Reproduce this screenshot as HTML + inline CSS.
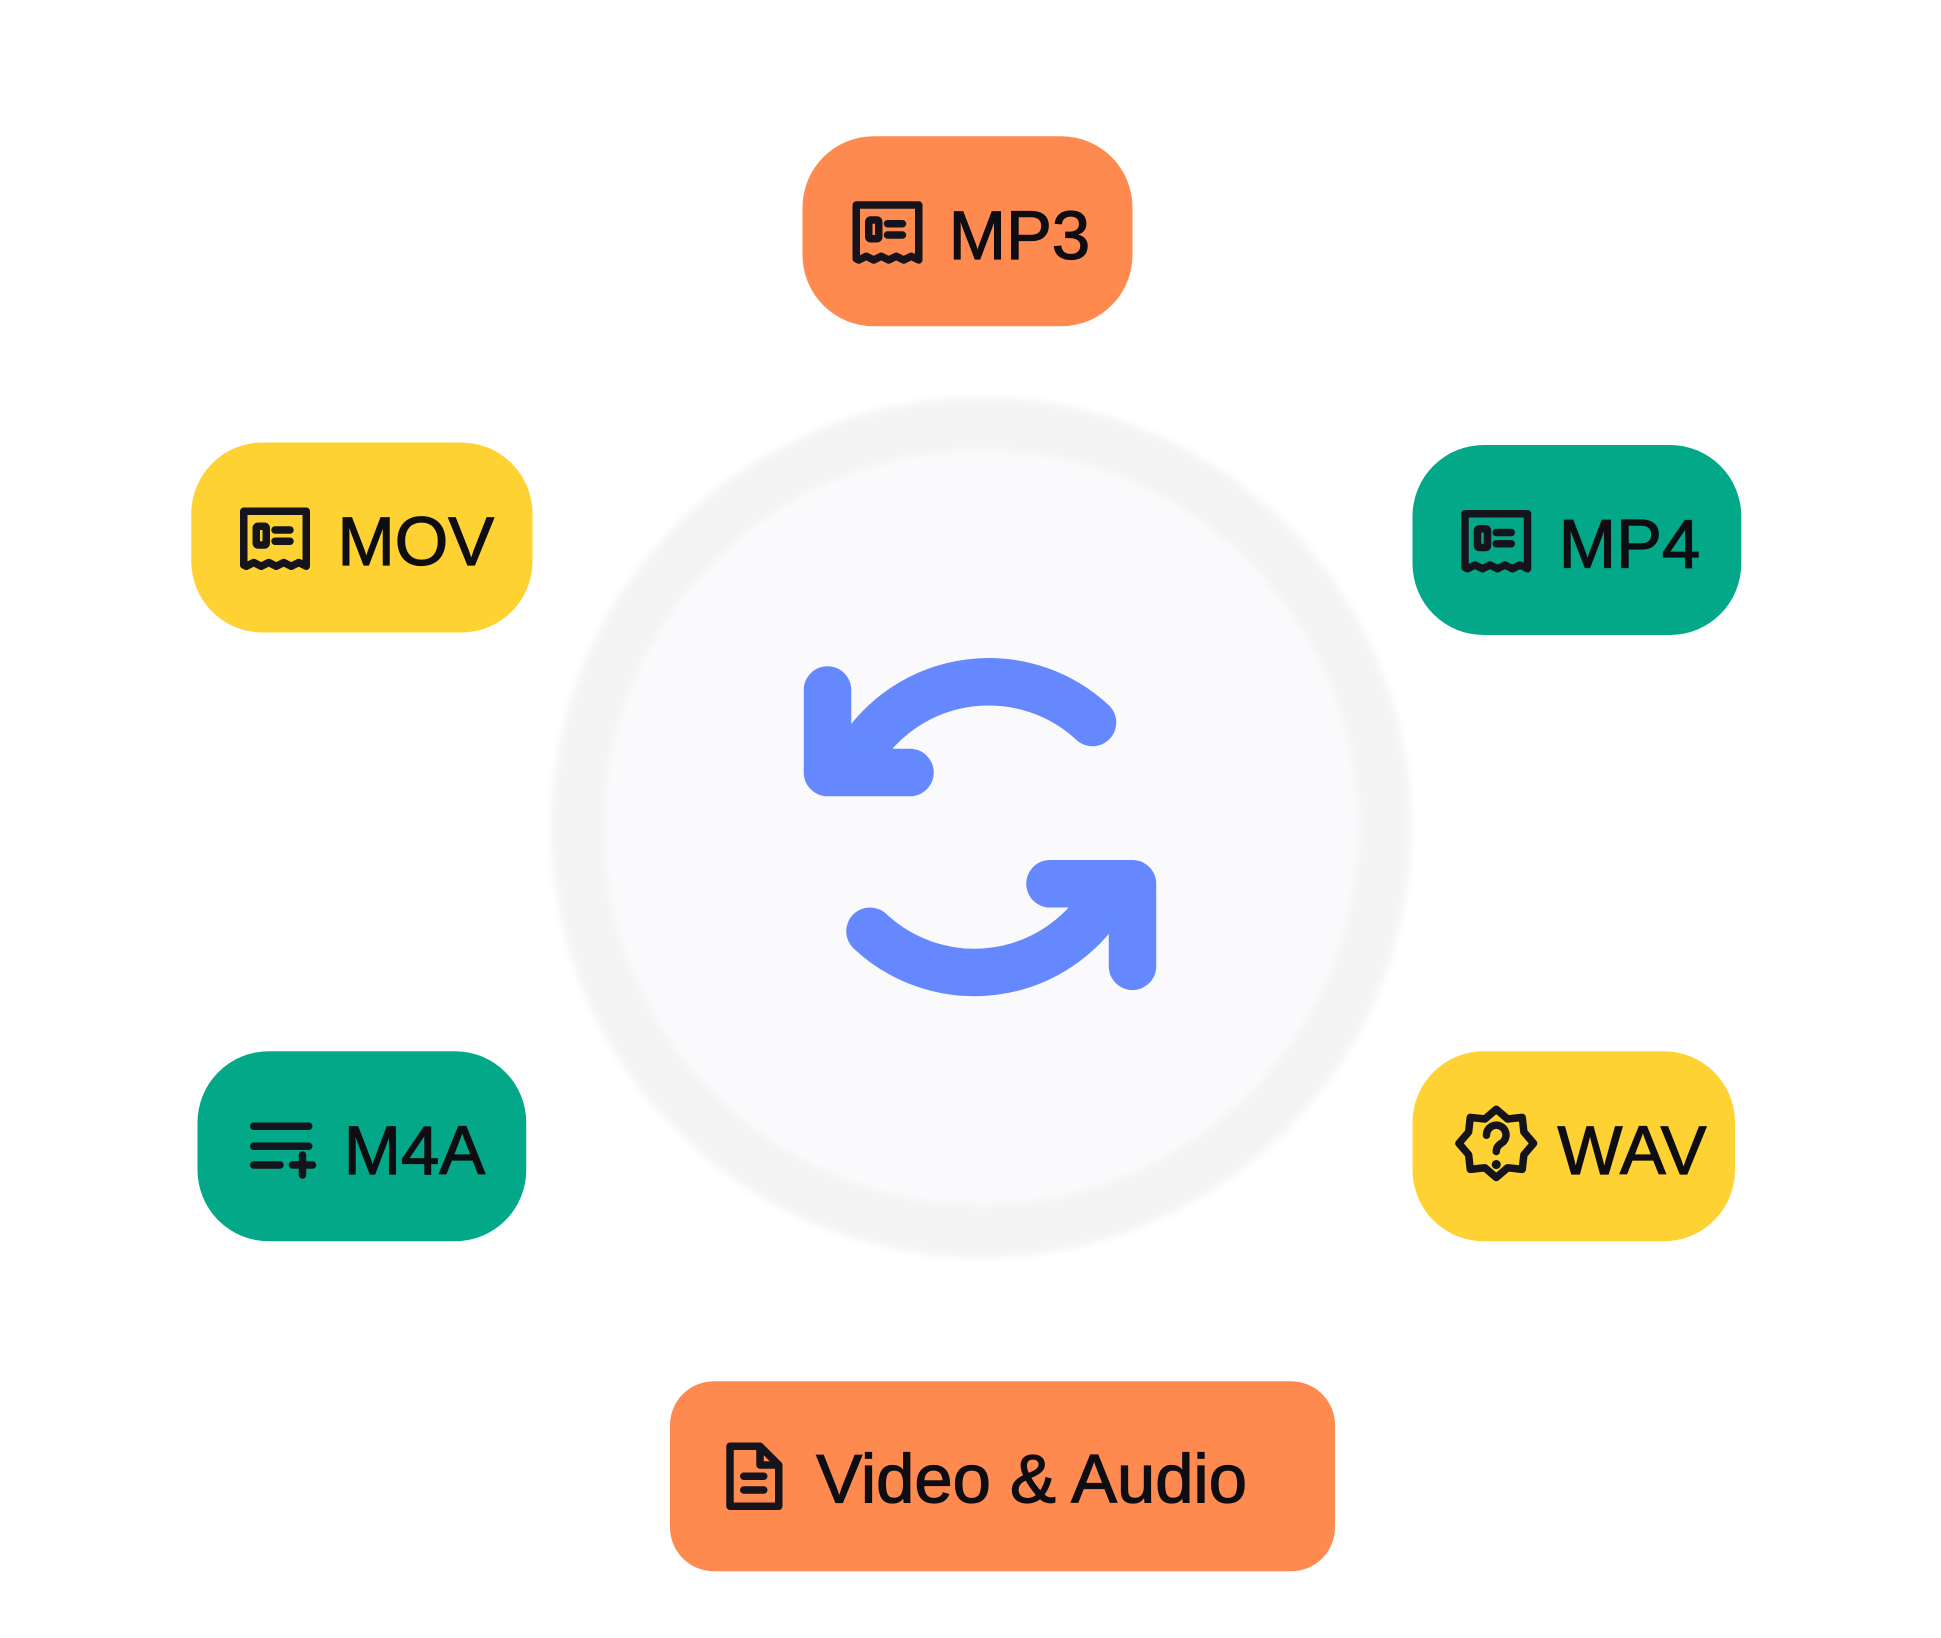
<!DOCTYPE html>
<html><head><meta charset="utf-8"><style>
html,body{margin:0;padding:0;background:#fff;}
svg{display:block;}
text{font-family:"Liberation Sans",Arial,sans-serif;font-size:55px;fill:#0d0d12;stroke:#0d0d12;stroke-width:1px;}
</style></head><body>
<svg width="1941" height="1638" viewBox="0 0 1552.8 1310.4" xmlns="http://www.w3.org/2000/svg">
<defs>
<filter id="b" x="-20%" y="-20%" width="140%" height="140%"><feGaussianBlur stdDeviation="3"/></filter>
<g id="rc" fill="none" stroke="#15141c" stroke-width="6" stroke-linejoin="round" stroke-linecap="round">
<path d="M2,2 H52 V46 L46,43 L40,46 L34,43 L28,46 L22,43 L16,46 L10,43 L4,46 L2,45 Z"/>
<rect x="12" y="14" width="8" height="15" rx="1.5"/>
<path d="M27,17 H39 M27,26 H39"/>
</g>
</defs>
<rect width="1552.8" height="1310.4" fill="#fff"/>
<circle cx="785" cy="662" r="344" fill="#f4f4f5" filter="url(#b)"/>
<circle cx="785" cy="662" r="302" fill="#fafafc" filter="url(#b)"/>
<g fill="none" stroke="#6588ff" stroke-width="38" stroke-linecap="round" stroke-linejoin="round">
<path d="M874,578 A122,122 0 0 0 688,602"/>
<path d="M662,552 L662,618 L728,618"/>
<path d="M696,745 A122,122 0 0 0 882,722"/>
<path d="M840,707 L906,707 L906,773"/>
</g>
<rect x="642" y="109" width="264" height="152" rx="57" fill="#ff8a50"/>
<rect x="153" y="354" width="273" height="152" rx="57" fill="#ffd233"/>
<rect x="1130" y="356" width="263" height="152" rx="57" fill="#02a888"/>
<rect x="158" y="841" width="263" height="152" rx="57" fill="#02a888"/>
<rect x="1130" y="841" width="258" height="152" rx="57" fill="#ffd233"/>
<rect x="536" y="1105" width="532" height="152" rx="35" fill="#ff8a50"/>
<use href="#rc" x="683" y="162"/>
<use href="#rc" x="193" y="407"/>
<use href="#rc" x="1170" y="409"/>
<g fill="none" stroke="#15141c" stroke-width="6" stroke-linecap="round" stroke-linejoin="round">
<path d="M203,901 H247 M203,917 H247 M203,932 H224 M234,932 H250 M242,924 V940"/>
<path d="M584,1157 H608 L623,1172 V1205 H584 Z M608,1157 V1172 H623 M595,1181 H611 M595,1192 H611"/>
</g>
<g transform="translate(1197,916) scale(1.3) translate(-1197,-916)">
<g fill="none" stroke="#15141c" stroke-width="4.6" stroke-linecap="round" stroke-linejoin="round">
<path d="M1197,894 l7,6 9,-1 1,9 6,7 -6,7 -1,9 -9,-1 -7,6 -7,-6 -9,1 -1,-9 -6,-7 6,-7 1,-9 9,1 Z"/>
<path d="M1191,910 a6,6 0 1 1 9,5 q-3,2 -3,5"/>
</g>
<circle cx="1197" cy="928" r="2.8" fill="#15141c"/>
</g>
<text x="759" y="207">MP3</text>
<text x="270" y="452">MOV</text>
<text x="1247" y="454">MP4</text>
<text x="275" y="939">M4A</text>
<text x="1246" y="939">WAV</text>
<text x="653" y="1202">Video &amp; Audio</text>
</svg>
</body></html>
